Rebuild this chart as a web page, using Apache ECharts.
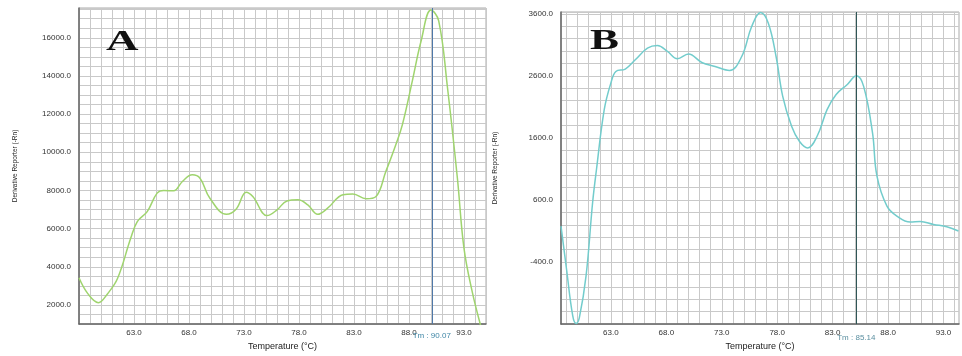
<!DOCTYPE html>
<html>
<head>
<meta charset="utf-8"/>
<title>Melt curves</title>
<script src="https://cdn.jsdelivr.net/npm/echarts@6/dist/echarts.min.js"></script>
<style>
  html, body { margin: 0; padding: 0; background: #fff; }
  #main { width: 962px; height: 356px; }
</style>
</head>
<body>
<div id="main"></div>
<script type="text/javascript">
// panel A – temperature / derivative reporter
var tempA = [58.0, 58.8, 59.76, 60.6, 61.5, 62.7, 63.3, 64.2, 65.1, 65.7, 66.6, 67.4, 68.3, 69.0, 69.9,
             71.4, 72.3, 73.2, 73.8, 75.1, 76.0, 76.9, 77.9, 78.8, 79.7, 80.6, 82.0, 82.9, 84.1, 85.0,
             85.9, 86.8, 87.4, 88.3, 89.1, 90.0, 90.7, 91.5, 92.4, 93.0, 93.75, 94.5];
var derivA = [3420, 2590, 2120, 2590, 3380, 5490, 6370, 6890, 7860, 8000, 7980, 8470, 8820, 8640, 7590,
              6750, 7030, 7910, 7680, 6680, 6980, 7450, 7510, 7240, 6750, 7070, 7770, 7810, 7560, 7680,
              9000, 10400, 11450, 13730, 15830, 17450, 16890, 13380, 8640, 4960, 2680, 950];
// panel B
var tempB = [58.5, 59.0, 59.56, 59.87, 60.16, 60.76, 61.35, 61.7, 62.4, 63.0, 63.45, 64.3, 65.2, 66.3, 67.2,
             68.1, 69.0, 70.0, 71.2, 72.4, 73.7, 74.8, 75.7, 76.5, 77.2, 77.9, 78.5, 79.3, 80.0, 80.75,
             81.6, 82.5, 83.3, 84.3, 85.15, 85.8, 86.6, 87.0, 87.9, 88.8, 90.0, 90.9, 92.1, 93.3, 94.35];
var derivB = [180, -516, -1267, -1390, -1293, -624, 556, 1092, 2056, 2486, 2672, 2710, 2860, 3048, 3090,
              2994, 2876, 2952, 2817, 2753, 2688, 2913, 3396, 3621, 3450, 2913, 2270, 1788, 1547, 1440,
              1627, 2056, 2297, 2458, 2603, 2431, 1682, 984, 501, 340, 244, 255, 207, 170, 100];

var tmA = 90.07, tmB = 85.14;
var xTicks = [63, 68, 73, 78, 83, 88, 93];
var yTicksA = [2000, 4000, 6000, 8000, 10000, 12000, 14000, 16000];
var yTicksB = [-400, 600, 1600, 2600, 3600];

function pairs(xs, ys) {
    return xs.map(function (x, i) { return [x, ys[i]]; });
}
function hasTick(list, v) {
    return list.some(function (t) { return Math.abs(t - v) < 1e-6; });
}

var gridLine = '#c9c9c9';
var labelStyle = { color: '#333', fontSize: 8, fontFamily: 'Liberation Sans' };
var yName = 'Derivative Reporter (-Rn)';

function xAxisFor(idx, min, max, interval, splitColors) {
    return {
        type: 'value', gridIndex: idx, min: min, max: max, interval: interval,
        name: 'Temperature (°C)', nameLocation: 'middle', nameGap: 14,
        nameTextStyle: { color: '#222', fontSize: 9, fontFamily: 'Liberation Sans' },
        axisLine: { onZero: false, lineStyle: { color: '#666', width: 1.5 } },
        axisTick: { show: false },
        axisLabel: Object.assign({ margin: 5, formatter: function (v) {
            return hasTick(xTicks, v) ? v.toFixed(1) : '';
        } }, labelStyle),
        splitLine: { show: true, lineStyle: { color: splitColors, width: 1 } }
    };
}
function yAxisFor(idx, min, max, interval, ticks, gap) {
    return {
        type: 'value', gridIndex: idx, min: min, max: max, interval: interval,
        name: yName, nameLocation: 'middle', nameGap: gap, nameRotate: 90,
        nameTextStyle: { color: '#222', fontSize: 6.5, fontFamily: 'Liberation Sans' },
        axisLine: { show: true, onZero: false, lineStyle: { color: '#666', width: 1.5 } },
        axisTick: { show: false },
        axisLabel: Object.assign({ margin: 8, formatter: function (v) {
            return hasTick(ticks, v) ? v.toFixed(1) : '';
        } }, labelStyle),
        splitLine: { show: true, lineStyle: { color: gridLine, width: 1 } }
    };
}

var option = {
    animation: false,
    backgroundColor: '#fff',
    grid: [
        { left: 79, top: 8, width: 407, height: 316, show: true, borderColor: '#aaa', borderWidth: 1 },
        { left: 561, top: 12, width: 401, height: 315, show: true, borderColor: '#aaa', borderWidth: 1 }
    ],
    xAxis: [
        xAxisFor(0, 58, 95, 1, gridLine),
        xAxisFor(1, 58.5, 94.4, 0.5, ['rgba(0,0,0,0)', gridLine])
    ],
    yAxis: [
        yAxisFor(0, 1000, 17560, 500, yTicksA, 60),
        yAxisFor(1, -1400, 3630, 200, yTicksB, 62)
    ],
    graphic: [
        { type: 'text', x: 106, y: 27, scaleX: 1.5, z: 100,
          style: { text: 'A', fontSize: 30, fontWeight: 'bold', fontFamily: 'Liberation Serif', fill: '#111' } },
        { type: 'text', x: 590, y: 26, scaleX: 1.45, z: 100,
          style: { text: 'B', fontSize: 30, fontWeight: 'bold', fontFamily: 'Liberation Serif', fill: '#111' } }
    ],
    series: [
        {
            type: 'line', xAxisIndex: 0, yAxisIndex: 0, data: pairs(tempA, derivA),
            smooth: 0.4, showSymbol: false, clip: false,
            lineStyle: { color: '#9fd46e', width: 1.5 },
            markLine: {
                silent: true, symbol: ['none', 'none'],
                lineStyle: { color: '#4f78a8', width: 1, type: 'solid' },
                label: { show: true, position: 'start', distance: 8, formatter: 'Tm : 90.07',
                         color: '#3f86a6', fontSize: 8, fontFamily: 'Liberation Sans' },
                data: [{ xAxis: tmA }]
            }
        },
        {
            type: 'line', xAxisIndex: 1, yAxisIndex: 1, data: pairs(tempB, derivB),
            smooth: 0.4, showSymbol: false, clip: false,
            lineStyle: { color: '#72cccc', width: 1.5 },
            markLine: {
                silent: true, symbol: ['none', 'none'],
                lineStyle: { color: '#2f5656', width: 1, type: 'solid' },
                label: { show: true, position: 'start', distance: 10, formatter: 'Tm : 85.14',
                         color: '#5b8fa0', fontSize: 8, fontFamily: 'Liberation Sans' },
                data: [{ xAxis: tmB }]
            }
        }
    ]
};

var chart = echarts.init(document.getElementById('main'));
chart.setOption(option);
</script>
</body>
</html>
